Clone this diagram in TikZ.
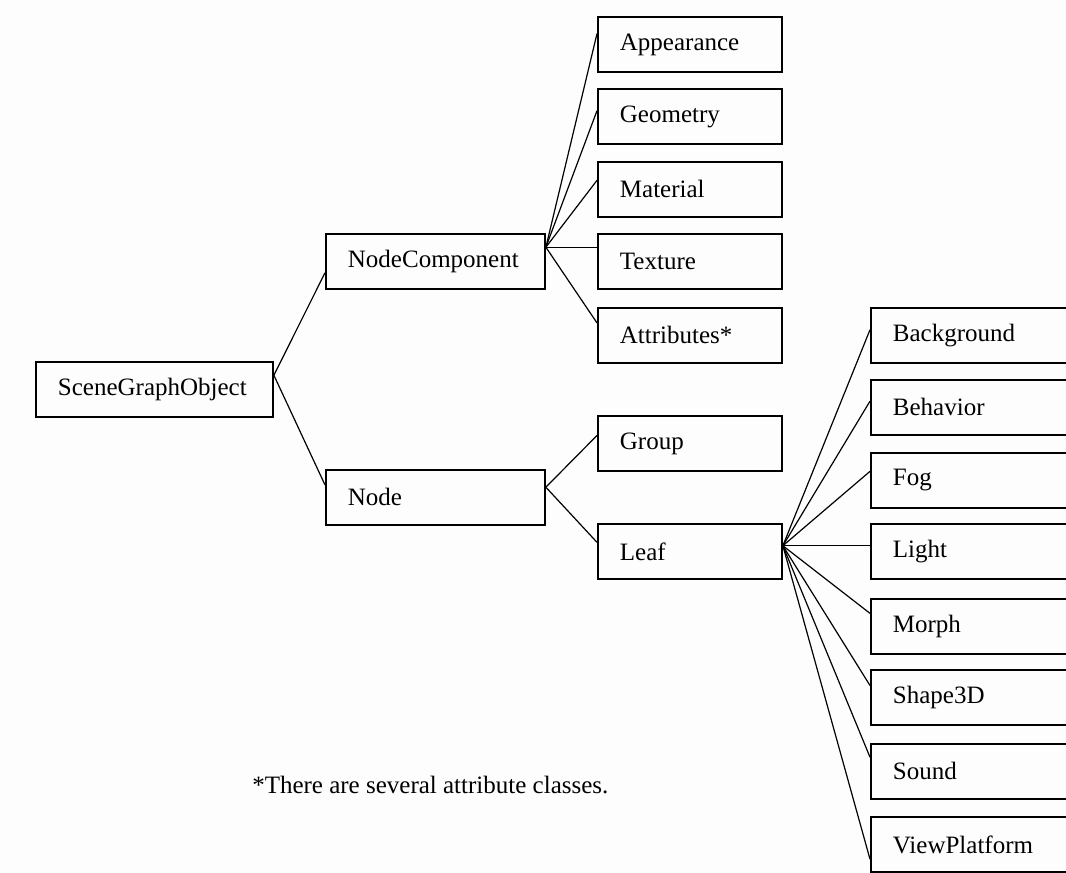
\documentclass[tikz,border=0pt]{standalone}
\usepackage{fontspec}
\setmainfont{Liberation Serif}
\usetikzlibrary{calc}
\definecolor{bgcol}{RGB}{252,253,252}
\begin{document}
\begin{tikzpicture}[x=0.75pt,y=-0.75pt,
  box/.style={draw=black, line width=1.4pt, rectangle, anchor=north west,
    minimum height=41.25pt, inner xsep=16.5pt, inner ysep=0pt, align=left,
    font=\fontsize{18.75}{22}\selectfont},
  sgobox/.style={box, text width=144.75pt},
  midbox/.style={box, text width=131.25pt},
  colbox/.style={box, text width=105pt},
  rightbox/.style={box, text width=124.5pt},
  link/.style={draw=black, line width=0.9pt},
  note/.style={anchor=base west, inner sep=0pt, font=\fontsize{18.75}{22}\selectfont}]
\useasboundingbox (0,0) rectangle (1066,873);
\clip (0,0) rectangle (1066,873);
\fill[bgcol] (0,0) rectangle (1066,873);

% boxes
\node[sgobox] (sgo) at (35,361) {SceneGraphObject};
\node[midbox] (nc) at (325,233) {NodeComponent};
\node[midbox] (node) at (325,469) {Node};

\node[colbox] (app) at (597,16) {Appearance};
\node[colbox] (geo) at (597,88) {Geometry};
\node[colbox] (mat) at (597,161) {Material};
\node[colbox] (tex) at (597,233) {Texture};
\node[colbox] (att) at (597,307) {Attributes*};

\node[colbox] (grp) at (597,415) {Group};
\node[colbox] (leaf) at (597,523) {Leaf};

\node[rightbox] (bg) at (870,307) {Background};
\node[rightbox] (beh) at (870,379) {Behavior};
\node[rightbox] (fog) at (870,452) {Fog};
\node[rightbox] (light) at (870,523) {Light};
\node[rightbox] (morph) at (870,598) {Morph};
\node[rightbox] (shape) at (870,669) {Shape3D};
\node[rightbox] (sound) at (870,743) {Sound};
\node[rightbox] (vp) at (870,816) {ViewPlatform};

\node[note] (fn) at (252,793) {*There are several attribute classes.};

% junction points
\coordinate (sgoR) at ($(sgo.north east)!0.25!(sgo.south east)$);
\coordinate (ncR) at ($(nc.north east)!0.25!(nc.south east)$);
\coordinate (nodeR) at ($(node.north east)!0.32!(node.south east)$);
\coordinate (leafR) at ($(leaf.north east)!0.4!(leaf.south east)$);

% connectors
\draw[link] (sgoR) -- ($(nc.north west)!0.7!(nc.south west)$);
\draw[link] (sgoR) -- ($(node.north west)!0.28!(node.south west)$);

\draw[link] (ncR) -- ($(app.north west)!0.31!(app.south west)$);
\draw[link] (ncR) -- ($(geo.north west)!0.4!(geo.south west)$);
\draw[link] (ncR) -- ($(mat.north west)!0.34!(mat.south west)$);
\draw[link] (ncR) -- ($(tex.north west)!0.25!(tex.south west)$);
\draw[link] (ncR) -- ($(att.north west)!0.28!(att.south west)$);

\draw[link] (nodeR) -- ($(grp.north west)!0.36!(grp.south west)$);
\draw[link] (nodeR) -- ($(leaf.north west)!0.34!(leaf.south west)$);

\draw[link] (leafR) -- ($(bg.north west)!0.4!(bg.south west)$);
\draw[link] (leafR) -- ($(beh.north west)!0.39!(beh.south west)$);
\draw[link] (leafR) -- ($(fog.north west)!0.34!(fog.south west)$);
\draw[link] (leafR) -- ($(light.north west)!0.4!(light.south west)$);
\draw[link] (leafR) -- ($(morph.north west)!0.27!(morph.south west)$);
\draw[link] (leafR) -- ($(shape.north west)!0.29!(shape.south west)$);
\draw[link] (leafR) -- ($(sound.north west)!0.25!(sound.south west)$);
\draw[link] (leafR) -- ($(vp.north west)!0.76!(vp.south west)$);
\end{tikzpicture}
\end{document}
